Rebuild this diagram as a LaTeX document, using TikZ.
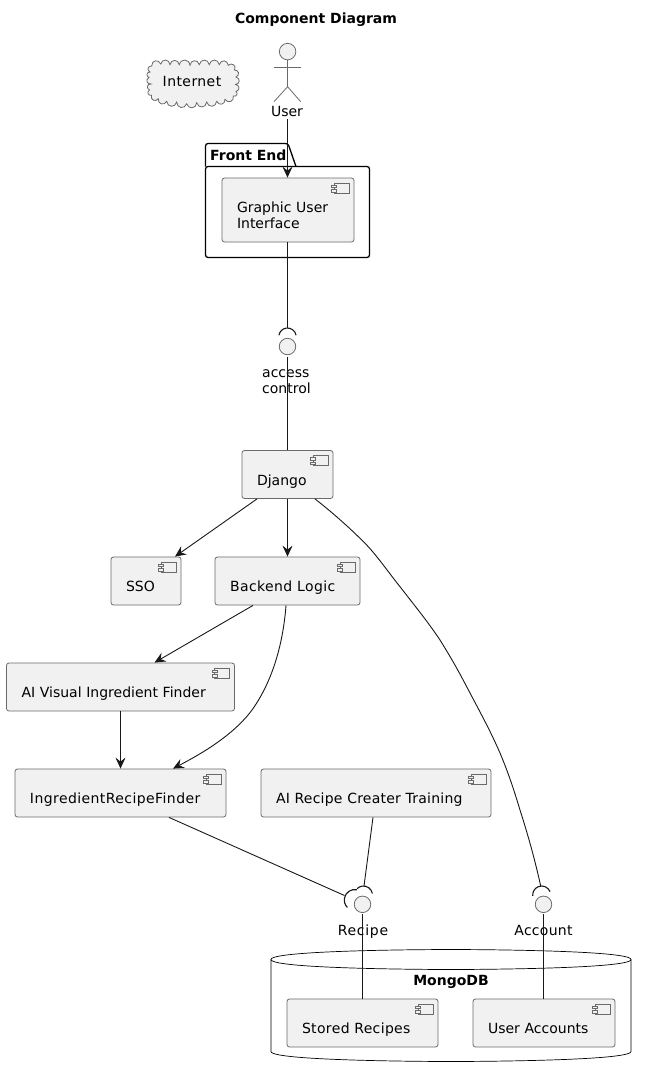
\documentclass[tikz,border=0pt]{standalone}
\usepackage{fontspec}
\setmainfont{DejaVu Sans}
\usepackage{tikz}
\usetikzlibrary{arrows.meta}
\definecolor{compfill}{HTML}{F1F1F1}
\definecolor{compline}{HTML}{6A6A6A}
\definecolor{wireline}{HTML}{181818}
\tikzset{
  basefont/.style={font=\fontsize{14}{16}\selectfont},
  spaced/.style={font=\fontsize{14}{16}\selectfont\addfontfeature{LetterSpace=#1}},
  compbox/.style={rectangle,rounded corners=2.5pt,draw=compline,line width=0.8pt,fill=compfill,
    basefont,align=left,text width=#1pt-30pt,inner xsep=15pt,inner ysep=0pt,minimum height=48pt,
    execute at begin node={\rule[-4pt]{0pt}{29pt}}},
  ifacedot/.style={circle,draw=compline,line width=0.8pt,fill=compfill,minimum size=16.5pt,inner sep=0pt},
  thinline/.style={draw=compline,line width=0.8pt},
  plaintext/.style={basefont,inner sep=0pt},
  boldtext/.style={basefont,font=\fontsize{14}{16}\selectfont\bfseries,inner sep=0pt},
  wire/.style={draw=wireline,line width=0.9pt},
  arrowwire/.style={wire,-{Stealth[length=11pt,width=10pt,inset=4pt]}},
  socket/.style={draw=wireline,line width=1.1pt},
  puff/.style={bend left=80,looseness=1.6},
}
\newcommand{\compicon}[1]{%
  \draw[thinline,fill=compfill] ([shift={(-20.5,5.5)}]#1.north east) rectangle ++(15,10);
  \draw[thinline,fill=compfill] ([shift={(-23,7.5)}]#1.north east) rectangle ++(5,2.5);
  \draw[thinline,fill=compfill] ([shift={(-23,12)}]#1.north east) rectangle ++(5,2.5);
}
\begin{document}
\begin{tikzpicture}[x=1pt,y=-1pt]
\useasboundingbox (0,0) rectangle (646,1077);

\node[boldtext] (title) at (316,19.5) {Component Diagram};

% cloud
\draw[thinline,fill=compfill]
  (150,72) to[puff] (151.7,66) to[puff] (160.7,64) to[puff] (170,64.7)
  to[puff] (179.3,64.7) to[puff] (190,65.3) to[puff] (199.3,64.7)
  to[puff] (209.3,64.7) to[puff] (219.3,64.7) to[puff] (228.3,65.3)
  to[puff] (234.5,70) to[puff] (236,77) to[puff] (235.5,84.5)
  to[puff] (236,91.5) to[puff] (233.3,96) to[puff] (225,99.3)
  to[puff] (216.7,101.3) to[puff] (206.7,102) to[puff] (196.7,102.7)
  to[puff] (186.7,103.7) to[puff] (176.7,102) to[puff] (166.7,101.3)
  to[puff] (158.3,98.7) to[puff] (151.5,95.3) to[puff] (149.5,90)
  to[puff] (151,84) to[puff] (149,77.5) to[puff] (150,72) -- cycle;
\node[plaintext,spaced=3] (internet) at (192,81) {Internet};

% actor
\node[ifacedot] (head) at (287.6,51.6) {};
\coordinate (hip) at (287.6,86.7);
\draw[thinline] (head) -- (hip);
\draw[thinline] (274,67) -- (300.7,67);
\draw[thinline] (274,101.7) -- (hip) -- (300.7,101.7);
\node[plaintext] (user) at (287,111) {User};

% front end package
\draw[draw=black,line width=1.3pt,rounded corners=2.5pt]
  (205.5,166.5) -- (205.5,143.5) -- (288,143.5) -- (296,166.5);
\draw[draw=black,line width=1.3pt,rounded corners=2.5pt]
  (205.5,166.5) -- (369.5,166.5) -- (369.5,257.5) -- (205.5,257.5) -- cycle;
\node[boldtext,anchor=west] (frontend) at (210,155) {Front End};

% database
\draw[draw=black,line width=0.7pt,fill=white]
  (271,959.5) .. controls (271,949.5) and (451,949.5) .. (451,949.5)
  .. controls (451,949.5) and (631,949.5) .. (631,959.5) -- (631,1051.5)
  .. controls (631,1061.5) and (451,1061.5) .. (451,1061.5)
  .. controls (451,1061.5) and (271,1061.5) .. (271,1051.5) -- cycle;
\draw[draw=black,line width=0.7pt]
  (271,959.5) .. controls (271,969.5) and (451,969.5) .. (451,969.5)
  .. controls (451,969.5) and (631,969.5) .. (631,959.5);
\node[boldtext] (mongodb) at (451,981.5) {MongoDB};

% components
\node[compbox=132,minimum height=64pt,execute at end node={\rule[-5pt]{0pt}{0pt}}] (gui) at (288,210) {Graphic User\\Interface};
\node[compbox=91] (django) at (287.5,474.5) {Django};
\node[compbox=70] (sso) at (146,581) {SSO};
\node[compbox=145,spaced=3] (backend) at (287.5,581) {Backend Logic};
\node[compbox=228] (visual) at (120.5,687) {AI Visual Ingredient Finder};
\node[compbox=211,spaced=3] (finder) at (120.5,793) {IngredientRecipeFinder};
\node[compbox=230,spaced=1.7] (training) at (376,793) {AI Recipe Creater Training};
\node[compbox=151,spaced=2.5] (stored) at (362.5,1023) {Stored Recipes};
\node[compbox=142] (accounts) at (544,1023) {User Accounts};
\foreach \c in {gui,django,sso,backend,visual,finder,training,stored,accounts}
  \compicon{\c};

% interfaces
\node[ifacedot] (access) at (287.5,346.5) {};
\node[ifacedot] (recipe) at (362.5,904.3) {};
\node[ifacedot] (account) at (543.5,904.3) {};
\node[plaintext,align=left,anchor=north west] (accesslabel) at (262,369.5) {access\\control};
\node[plaintext,spaced=5] (recipelabel) at (363,931.5) {Recipe};
\node[plaintext,spaced=2] (accountlabel) at (543.5,930) {Account};

% sockets
\coordinate (accesstop) at (287.5,328);
\coordinate (recipetop) at (364,886);
\coordinate (recipeleft) at (344.5,895.5);
\coordinate (accounttop) at (540.7,886);
\draw[socket] ([shift={(10:8.7pt)}]287.5,336.7) arc[start angle=10,end angle=170,radius=8.7pt];
\draw[socket] ([shift={(10:9pt)}]363.5,895) arc[start angle=10,end angle=135,radius=9pt];
\draw[socket] ([shift={(78:10.5pt)}]354.8,900) arc[start angle=78,end angle=225,radius=10.5pt];
\draw[socket] ([shift={(22:9pt)}]541.7,895) arc[start angle=22,end angle=185,radius=9pt];

% connectors
\coordinate (userfoot) at (287.5,119);
\draw[arrowwire] (userfoot) -- (userfoot |- gui.north);
\draw[wire] (access.north |- gui.south) -- (accesstop);
\draw[wire,shorten <=1.5pt] (access) -- (django.north);
\draw[arrowwire] ([xshift=-30.5pt]django.south) -- ([xshift=29pt]sso.north);
\draw[arrowwire] (django.south) -- (backend.north);
\draw[arrowwire] ([xshift=-34.5pt]backend.south) -- ([xshift=34pt]visual.north);
\draw[arrowwire] (visual.south) -- (finder.north);
\draw[arrowwire] ([xshift=-1.5pt]backend.south) .. controls (283,645) and (272,682) .. (252,710)
  .. controls (232,737) and (197,756) .. ([xshift=52.5pt]finder.north);
\draw[wire] ([xshift=48.5pt]finder.south) -- (recipeleft);
\draw[wire] ([xshift=-3pt]training.south) -- (recipetop);
\draw[wire] ([xshift=27.5pt]django.south) .. controls (333,513) and (350,528) .. (366.7,545)
  .. controls (378,557) and (389,573) .. (400,586.7)
  .. controls (415,606) and (428,622) .. (440,640)
  .. controls (450,656) and (458,670) .. (466.7,686.7)
  .. controls (480,712) and (490,730) .. (500,753)
  .. controls (508,772) and (514,790) .. (520,810)
  .. controls (528,835) and (535,860) .. (accounttop);
\draw[wire,shorten <=1.5pt] (recipe) -- (stored.north);
\draw[wire,shorten <=1.5pt] (account) -- (account |- accounts.north);

\end{tikzpicture}
\end{document}
